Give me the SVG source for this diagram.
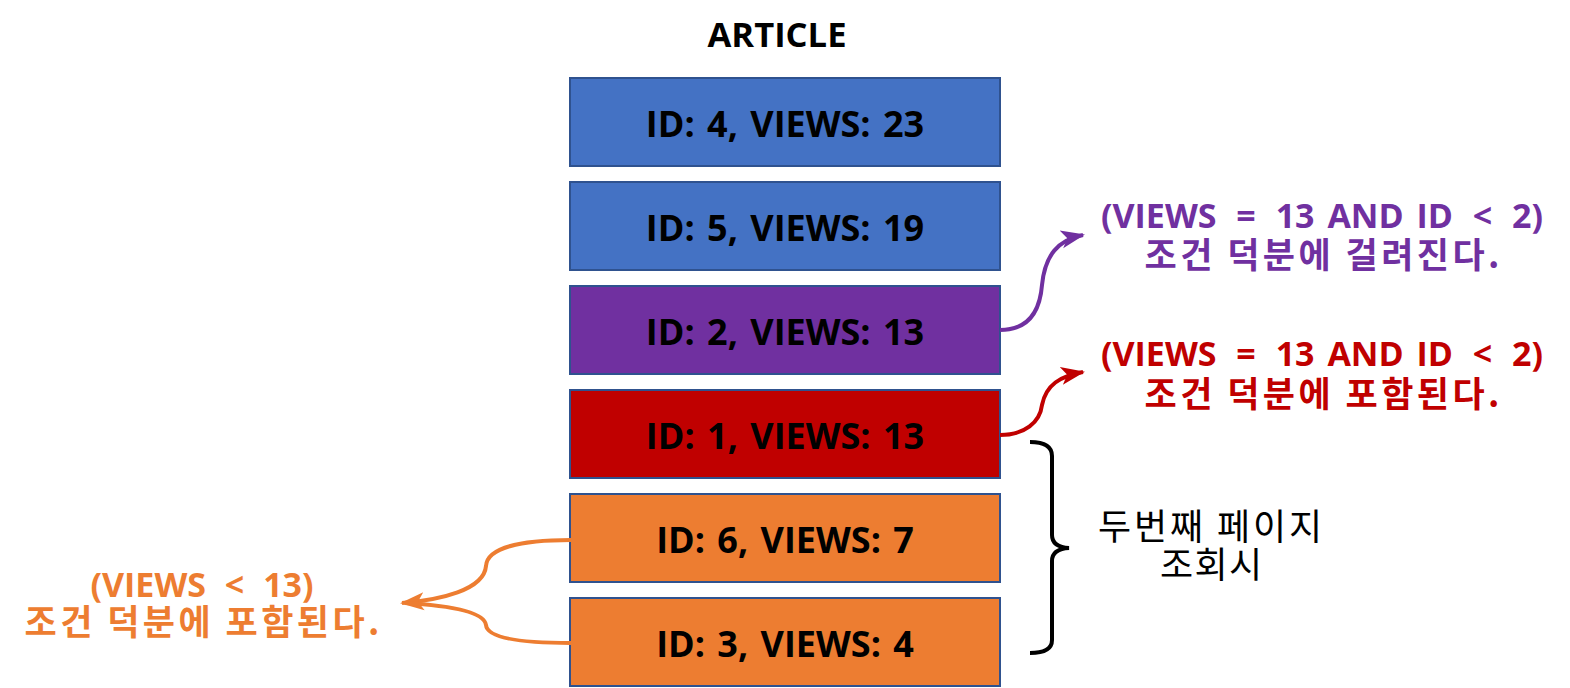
<svg xmlns="http://www.w3.org/2000/svg" width="1570" height="688" viewBox="0 0 1570 688">
<style>
.box{stroke:#2F528F;stroke-width:2}
.bt{font-family:"Open Sans","Noto Sans CJK KR",sans-serif;font-weight:bold;font-size:36px;fill:#000;text-anchor:middle;word-spacing:3px}
.lbl{font-family:"Open Sans","Noto Sans CJK KR",sans-serif;font-weight:bold;font-size:34px;text-anchor:middle;word-spacing:4px}
.kr{font-family:"Noto Sans CJK KR",sans-serif;font-weight:bold;font-size:35px;text-anchor:middle}
.kn{font-family:"Noto Sans CJK KR",sans-serif;font-size:36px;text-anchor:middle;fill:#000}
.conn{fill:none;stroke-width:4}
</style>
<defs>
<marker id="ap" markerUnits="userSpaceOnUse" markerWidth="26" markerHeight="26" viewBox="0 0 26 26" refX="22" refY="13" orient="auto"><path d="M0,4 L24,13 L0,22 L6,13 Z" fill="#7030A0"/></marker>
<marker id="ar" markerUnits="userSpaceOnUse" markerWidth="26" markerHeight="26" viewBox="0 0 26 26" refX="22" refY="13" orient="auto"><path d="M0,4 L24,13 L0,22 L6,13 Z" fill="#C00000"/></marker>
<marker id="ao" markerUnits="userSpaceOnUse" markerWidth="26" markerHeight="26" viewBox="0 0 26 26" refX="22" refY="13" orient="auto"><path d="M0,4 L24,13 L0,22 L6,13 Z" fill="#ED7D31"/></marker>
</defs>
<rect width="1570" height="688" fill="#fff"/>
<text x="777" y="47" class="bt" style="font-size:34px" textLength="139" lengthAdjust="spacingAndGlyphs">ARTICLE</text>
<g id="n4"><rect class="box" x="570" y="78" width="430" height="88" fill="#4472C4"/><text class="bt" x="785" y="137">ID: 4, VIEWS: 23</text></g>
<g id="n5"><rect class="box" x="570" y="182" width="430" height="88" fill="#4472C4"/><text class="bt" x="785" y="241">ID: 5, VIEWS: 19</text></g>
<g id="n2"><rect class="box" x="570" y="286" width="430" height="88" fill="#7030A0"/><text class="bt" x="785" y="345">ID: 2, VIEWS: 13</text></g>
<g id="n1"><rect class="box" x="570" y="390" width="430" height="88" fill="#C00000"/><text class="bt" x="785" y="449">ID: 1, VIEWS: 13</text></g>
<g id="n6"><rect class="box" x="570" y="494" width="430" height="88" fill="#ED7D31"/><text class="bt" x="785" y="553">ID: 6, VIEWS: 7</text></g>
<g id="n3"><rect class="box" x="570" y="598" width="430" height="88" fill="#ED7D31"/><text class="bt" x="785" y="657">ID: 3, VIEWS: 4</text></g>
<g id="purple-label" fill="#7030A0"><text class="lbl" x="1322" y="228">(VIEWS <tspan dx="7">=</tspan> <tspan dx="7">13</tspan> AND ID <tspan dx="7">&lt;</tspan> <tspan dx="7">2)</tspan></text><text class="kr" x="1322" y="268" textLength="355" lengthAdjust="spacing">조건 덕분에 걸려진다.</text></g>
<g id="red-label" fill="#C00000"><text class="lbl" x="1322" y="366">(VIEWS <tspan dx="7">=</tspan> <tspan dx="7">13</tspan> AND ID <tspan dx="7">&lt;</tspan> <tspan dx="7">2)</tspan></text><text class="kr" x="1322" y="407" textLength="355" lengthAdjust="spacing">조건 덕분에 포함된다.</text></g>
<g id="orange-label" fill="#ED7D31"><text class="lbl" x="202" y="597">(VIEWS <tspan dx="6">&lt;</tspan> <tspan dx="6">13)</tspan></text><text class="kr" x="202" y="635" textLength="355" lengthAdjust="spacing">조건 덕분에 포함된다.</text></g>
<g id="page-label"><text class="kn" x="1210" y="540" textLength="224" lengthAdjust="spacing">두번째 페이지</text><text class="kn" x="1211" y="578" textLength="102" lengthAdjust="spacing">조회시</text></g>
<g id="connectors">
<path class="conn" stroke="#7030A0" d="M1000,330 C1030,330 1040,310 1042,285 C1045,255 1058,240 1083,235" marker-end="url(#ap)"/>
<path class="conn" stroke="#C00000" d="M1000,435 C1025,435 1040,422 1042,405 C1046,385 1060,376 1083,372" marker-end="url(#ar)"/>
<path class="conn" stroke="#ED7D31" d="M571,540 C520,540 487,548 486,566 C484,590 440,600 402,603" marker-end="url(#ao)"/>
<path class="conn" stroke="#ED7D31" d="M571,643 C520,643 487,638 486,625 C484,610 440,605 405,603"/>
<path class="conn" stroke="#000" d="M1030,442 Q1052,442 1052,456 L1052,535 Q1052,547 1069,548 Q1052,549 1052,561 L1052,640 Q1052,653 1030,653"/>
</g>
</svg>
